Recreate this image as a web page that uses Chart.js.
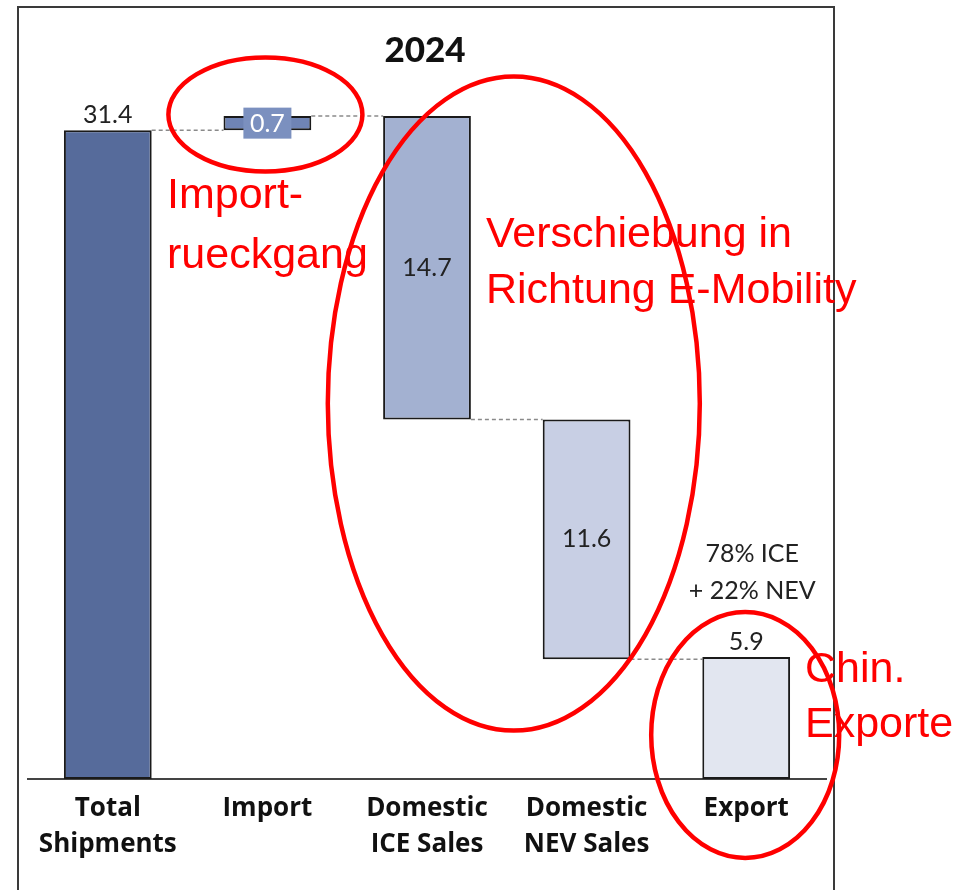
<!DOCTYPE html>
<html>
<head>
<meta charset="utf-8">
<script src="https://cdn.jsdelivr.net/npm/chart.js@4"></script>
<style>
  body { margin: 0; background: #fff; }
  #wrap { width: 957px; height: 890px; }
</style>
</head>
<body>
<div id="wrap"><canvas id="myChart" width="957" height="890"></canvas></div>
<script>
// waterfall data
const categories = [["Total", "Shipments"], ["Import"], ["Domestic", "ICE Sales"], ["Domestic", "NEV Sales"], ["Export"]];
const values = [31.4, 0.7, 14.7, 11.6, 5.9];
const steps = ["total", "up", "down", "down", "total"];
const valueLabels = ["31.4", "0.7", "14.7", "11.6", "5.9"];
const exportNote = ["78% ICE", "+ 22% NEV"];

const barColors = ["#566b9b", "#6f84b5", "#a3b1d1", "#c8cfe4", "#e2e6f0"];

// floating ranges + level after each step
const levels = [];
let level = 0;
const ranges = values.map((v, i) => {
  let r;
  if (steps[i] === "total") { r = [0, v]; level = v; }
  else if (steps[i] === "up") { r = [level, level + v]; level += v; }
  else { r = [level - v, level]; level -= v; }
  levels.push(level);
  return r;
});

const frame = {
  id: "frame",
  beforeDraw(chart) {
    const ctx = chart.ctx;
    ctx.save();
    ctx.strokeStyle = "#3a3a3a";
    ctx.lineWidth = 2;
    ctx.strokeRect(18, 7, 816, 900);
    ctx.fillStyle = "#111";
    ctx.font = "900 35px Lato";
    ctx.textAlign = "center";
    ctx.fillText("2024", 425, 62);
    ctx.restore();
  }
};

const connectors = {
  id: "connectors",
  beforeDatasetsDraw(chart) {
    const ctx = chart.ctx;
    const bars = chart.getDatasetMeta(0).data;
    const y = chart.scales.y;
    ctx.save();
    ctx.strokeStyle = "#8a8a8a";
    ctx.lineWidth = 1.5;
    ctx.setLineDash([4, 3]);
    for (let i = 0; i < bars.length - 1; i++) {
      const py = y.getPixelForValue(levels[i]);
      ctx.beginPath();
      ctx.moveTo(bars[i].x + bars[i].width / 2, py);
      ctx.lineTo(bars[i + 1].x - bars[i + 1].width / 2, py);
      ctx.stroke();
    }
    ctx.restore();
  }
};

const labels = {
  id: "labels",
  afterDatasetsDraw(chart) {
    const ctx = chart.ctx;
    const bars = chart.getDatasetMeta(0).data;
    ctx.save();
    ctx.font = "25px Lato";
    ctx.textAlign = "center";
    bars.forEach((b, i) => {
      const top = Math.min(b.y, b.base), bot = Math.max(b.y, b.base);
      const mid = (top + bot) / 2;
      if (steps[i] === "total") {
        ctx.fillStyle = "#222";
        ctx.textBaseline = "alphabetic";
        ctx.fillText(valueLabels[i], b.x, top - 7);
      } else if (steps[i] === "up") {
        ctx.fillStyle = "#7b90bf";
        ctx.fillRect(b.x - 24, mid - 15.5, 48, 31);
        ctx.fillStyle = "#fff";
        ctx.textBaseline = "middle";
        ctx.fillText(valueLabels[i], b.x, mid + 1);
      } else {
        ctx.fillStyle = "#222";
        ctx.textBaseline = "middle";
        ctx.fillText(valueLabels[i], b.x, mid);
      }
    });
    // note above export bar
    const e = bars[4];
    ctx.fillStyle = "#222";
    ctx.textBaseline = "alphabetic";
    ctx.fillText(exportNote[0], e.x + 6, e.y - 95);
    ctx.fillText(exportNote[1], e.x + 6, e.y - 58);
    ctx.restore();
  }
};

const redMarks = {
  id: "redMarks",
  afterDraw(chart) {
    const ctx = chart.ctx;
    const x = chart.scales.x, y = chart.scales.y;
    ctx.save();
    ctx.strokeStyle = "#ff0000";
    ctx.lineWidth = 4.5;
    const ell = (cx, cy, rx, ry) => {
      ctx.beginPath();
      ctx.ellipse(cx, cy, rx, ry, 0, 0, Math.PI * 2);
      ctx.stroke();
    };
    ell(x.getPixelForValue(1) - 2, y.getPixelForValue(levels[1]) - 1.5, 97, 57);
    ell(x.getPixelForValue(2.5) + 7, y.getPixelForValue(levels[2]) - 16, 186, 327);
    ell(x.getPixelForValue(4) - 1, y.getPixelForValue(0) - 44, 94, 123);

    ctx.fillStyle = "#ff0000";
    ctx.font = "43px 'Liberation Sans'";
    ctx.textAlign = "left";
    ctx.fillText("Import-", 167, 208);
    ctx.fillText("rueckgang", 167, 268);
    ctx.fillText("Verschiebung in", 486, 247);
    ctx.fillText("Richtung E-Mobility", 486, 303);
    ctx.fillText("Chin.", 805, 682);
    ctx.fillText("Exporte", 805, 737);
    ctx.restore();
  }
};

const ctx = document.getElementById("myChart");
new Chart(ctx, {
  type: "bar",
  data: {
    labels: categories,
    datasets: [{
      data: ranges,
      backgroundColor: barColors,
      borderColor: "#1a1a1a",
      borderWidth: 2,
      borderSkipped: false,
      categoryPercentage: 1,
      barPercentage: 0.55
    }]
  },
  options: {
    responsive: false,
    animation: false,
    layout: { padding: { left: 28, right: 131, top: 56, bottom: 0 } },
    plugins: { legend: { display: false }, tooltip: { enabled: false } },
    scales: {
      x: {
        grid: { display: false, drawTicks: false },
        border: { display: true, color: "#444", width: 2 },
        ticks: { color: "#111", padding: 12, font: { family: "'Open Sans'", size: 26, weight: "bold", lineHeight: "36px" } },
        afterFit(scale) { scale.height = 111; }
      },
      y: { display: false, min: 0, max: 35 }
    }
  },
  plugins: [frame, connectors, labels, redMarks]
});
</script>
</body>
</html>
